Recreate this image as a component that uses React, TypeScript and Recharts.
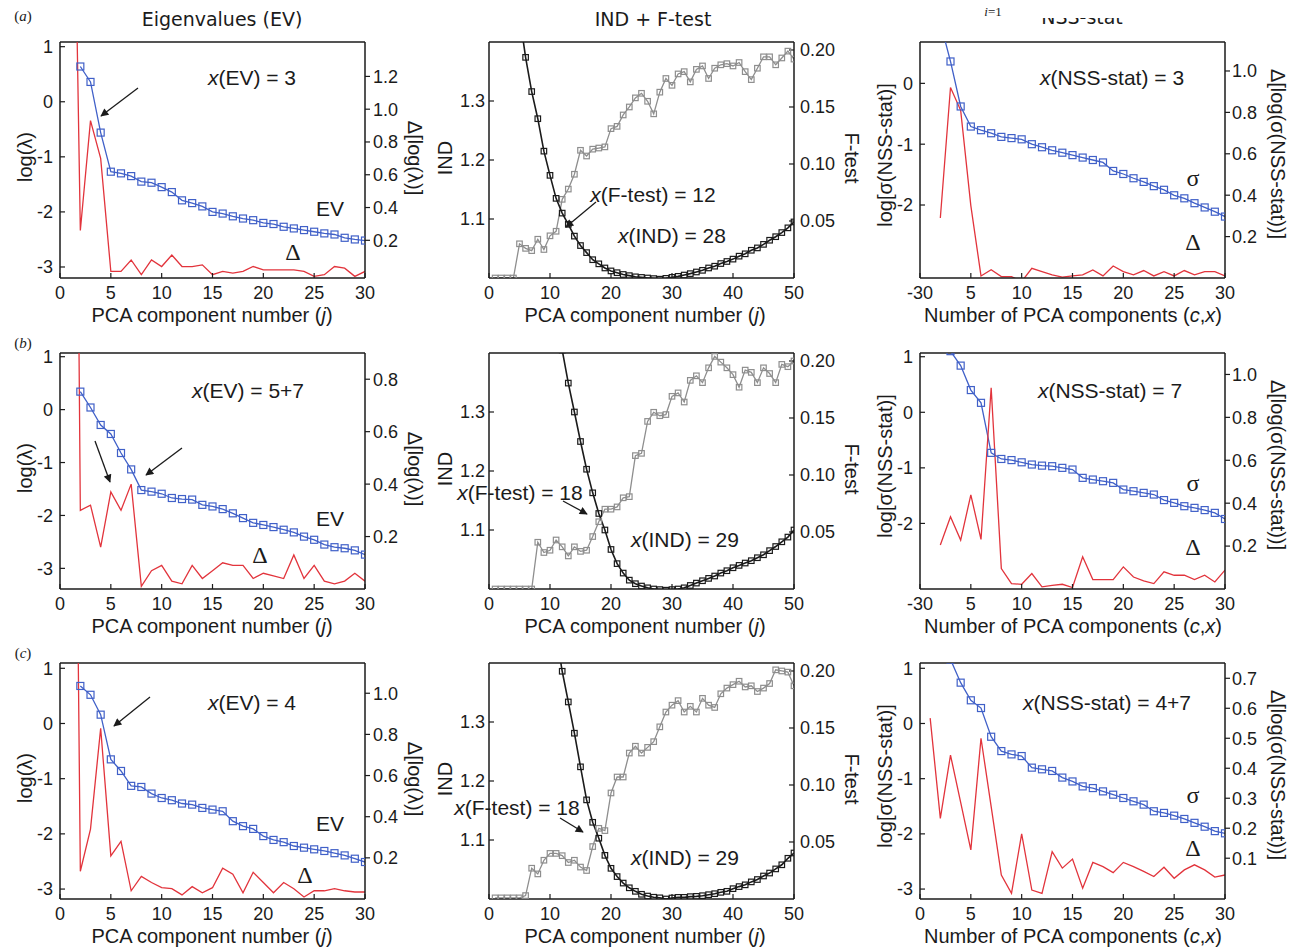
import React from "react";
import { ComposedChart, Line, XAxis, YAxis, ReferenceLine } from "recharts";

const SANS = "'Liberation Sans', Arial, Helvetica, sans-serif";
const SERIF = "'Liberation Serif', 'Times New Roman', serif";
const TITLE_FONT = "'DejaVu Sans', Verdana, sans-serif";
const INK = "#1b1b1b";
const BLUE = "#4060c8";
const RED = "#e2343c";
const GRAY = "#8e8e8e";

// component numbers j (1..30 and 1..50)
const J30 = Array.from({ length: 30 }, (_, i) => i + 1);
const J50 = Array.from({ length: 50 }, (_, i) => i + 1);

// x tick labels
const X30_TICKS = [0, 5, 10, 15, 20, 25, 30];
const X30_LABELS = ["0", "5", "10", "15", "20", "25", "30"];
const X30_LABELS_NSS = ["-30", "5", "10", "15", "20", "25", "30"];
const X50_TICKS = [0, 10, 20, 30, 40, 50];
const X50_LABELS = ["0", "10", "20", "30", "40", "50"];

// ---- column 1: eigenvalues, log(lambda) and delta ----
const EV_A = [null, 0.64, 0.36, -0.56, -1.27, -1.3, -1.35, -1.45, -1.47, -1.55, -1.64, -1.79, -1.84, -1.9, -2.0, -2.03, -2.08, -2.12, -2.15, -2.2, -2.22, -2.27, -2.3, -2.33, -2.36, -2.39, -2.41, -2.47, -2.5, -2.52];
const DEV_A = [4.0, 0.26, 0.93, 0.7, 0.01, 0.01, 0.08, -0.01, 0.08, 0.04, 0.11, 0.04, 0.04, 0.05, -0.01, 0.01, 0.0, 0.01, 0.04, 0.02, 0.02, 0.02, 0.02, 0.01, -0.02, -0.01, 0.04, 0.03, -0.02, 0.01];
const EV_B = [null, 0.34, 0.04, -0.29, -0.46, -0.82, -1.13, -1.52, -1.55, -1.59, -1.67, -1.69, -1.7, -1.8, -1.83, -1.88, -1.96, -2.05, -2.14, -2.18, -2.22, -2.27, -2.32, -2.4, -2.46, -2.55, -2.6, -2.62, -2.66, -2.74];
const DEV_B = [5.0, 0.3, 0.32, 0.16, 0.37, 0.3, 0.4, 0.01, 0.07, 0.09, 0.03, 0.02, 0.09, 0.04, 0.07, 0.1, 0.09, 0.09, 0.04, 0.06, 0.05, 0.04, 0.13, 0.04, 0.09, 0.03, 0.02, 0.03, 0.06, 0.03];
const EV_C = [null, 0.68, 0.52, 0.16, -0.65, -0.86, -1.13, -1.15, -1.27, -1.35, -1.39, -1.45, -1.47, -1.53, -1.56, -1.59, -1.77, -1.86, -1.91, -2.04, -2.11, -2.15, -2.22, -2.25, -2.28, -2.31, -2.35, -2.39, -2.45, -2.51];
const DEV_C = [5.2, 0.135, 0.34, 0.83, 0.21, 0.28, 0.04, 0.11, 0.08, 0.055, 0.05, 0.02, 0.06, 0.03, 0.055, 0.15, 0.12, 0.03, 0.13, 0.08, 0.03, 0.08, 0.05, 0.01, 0.04, 0.04, 0.05, 0.04, 0.034, 0.034];

// ---- column 2: IND and F-test ----
const IND_A = [null, null, null, null, 1.446, 1.374, 1.316, 1.27, 1.215, 1.174, 1.135, 1.11, 1.091, 1.071, 1.055, 1.043, 1.031, 1.024, 1.017, 1.012, 1.009, 1.006, 1.004, 1.002, 1.001, 1.0, 0.999, 0.998, 0.9994, 1.0011, 1.0028, 1.005, 1.0074, 1.0102, 1.013, 1.017, 1.02, 1.0245, 1.028, 1.032, 1.037, 1.041, 1.047, 1.051, 1.057, 1.064, 1.07, 1.077, 1.085, 1.095];
const FT_A = [0, 0, 0, 0, 0.03, 0.026, 0.024, 0.034, 0.025, 0.037, 0.041, 0.069, 0.078, 0.091, 0.112, 0.107, 0.113, 0.114, 0.115, 0.131, 0.133, 0.143, 0.15, 0.158, 0.162, 0.155, 0.144, 0.163, 0.175, 0.169, 0.179, 0.181, 0.172, 0.183, 0.186, 0.175, 0.184, 0.187, 0.188, 0.186, 0.189, 0.181, 0.174, 0.184, 0.194, 0.194, 0.187, 0.193, 0.199, 0.192];
const IND_B = [null, null, null, null, null, null, null, null, null, null, null, 1.405, 1.349, 1.3, 1.25, 1.203, 1.163, 1.128, 1.1, 1.067, 1.043, 1.027, 1.015, 1.009, 1.005, 1.002, 1.0, 0.999, 0.998, 0.999, 1.0, 1.002, 1.006, 1.01, 1.014, 1.018, 1.022, 1.027, 1.031, 1.036, 1.04, 1.044, 1.048, 1.053, 1.058, 1.065, 1.072, 1.08, 1.088, 1.1];
const FT_B = [0, 0, 0, 0, 0, 0, 0, 0.041, 0.032, 0.034, 0.043, 0.037, 0.029, 0.037, 0.033, 0.034, 0.046, 0.059, 0.07, 0.07, 0.072, 0.08, 0.081, 0.117, 0.119, 0.147, 0.155, 0.152, 0.153, 0.169, 0.172, 0.164, 0.183, 0.187, 0.181, 0.194, 0.204, 0.199, 0.194, 0.188, 0.177, 0.192, 0.19, 0.181, 0.194, 0.189, 0.181, 0.197, 0.195, 0.2];
const IND_C = [null, null, null, null, null, null, null, null, null, null, 1.45, 1.386, 1.334, 1.281, 1.224, 1.168, 1.13, 1.103, 1.074, 1.052, 1.038, 1.027, 1.019, 1.013, 1.008, 1.005, 1.003, 1.002, 1.0, 1.0017, 1.0028, 1.0028, 1.004, 1.0045, 1.0056, 1.0073, 1.009, 1.0113, 1.013, 1.0175, 1.021, 1.024, 1.029, 1.033, 1.039, 1.044, 1.051, 1.058, 1.069, 1.078];
const FT_C = [0.001, 0.001, 0.001, 0.001, 0.001, 0.003, 0.027, 0.022, 0.034, 0.04, 0.04, 0.038, 0.032, 0.034, 0.028, 0.025, 0.046, 0.062, 0.06, 0.093, 0.107, 0.107, 0.128, 0.134, 0.128, 0.133, 0.138, 0.151, 0.164, 0.17, 0.174, 0.164, 0.169, 0.164, 0.176, 0.17, 0.168, 0.18, 0.185, 0.188, 0.191, 0.186, 0.187, 0.182, 0.185, 0.189, 0.201, 0.2, 0.199, 0.187];

// ---- column 3: NSS-stat, log sigma and delta ----
const SIG_A = [null, 1.0, 0.36, -0.38, -0.71, -0.77, -0.82, -0.88, -0.9, -0.92, -1.0, -1.05, -1.1, -1.14, -1.18, -1.22, -1.26, -1.3, -1.44, -1.49, -1.56, -1.62, -1.69, -1.75, -1.84, -1.89, -1.97, -2.04, -2.11, -2.19];
const DSIG_A = [null, 0.29, 0.92, 0.81, 0.35, 0.01, 0.04, 0.007, 0.007, -0.017, 0.047, 0.031, 0.015, 0.004, 0.01, 0.015, 0.039, 0.01, 0.058, 0.031, 0.015, 0.036, 0.01, 0.031, 0.01, 0.036, 0.015, 0.031, 0.031, 0.01];
const SIG_B = [null, null, 1.1, 0.84, 0.4, 0.17, -0.73, -0.84, -0.86, -0.9, -0.94, -0.96, -0.97, -1.0, -1.03, -1.18, -1.21, -1.24, -1.27, -1.39, -1.42, -1.45, -1.48, -1.58, -1.63, -1.69, -1.72, -1.76, -1.81, -1.92];
const DSIG_B = [null, 0.205, 0.337, 0.228, 0.439, 0.231, 0.938, 0.095, 0.025, 0.022, 0.072, 0.01, 0.017, 0.022, 0.007, 0.15, 0.044, 0.044, 0.044, 0.103, 0.056, 0.038, 0.025, 0.08, 0.064, 0.064, 0.044, 0.064, 0.033, 0.088];
const SIG_C = [null, null, 1.16, 0.74, 0.42, 0.28, -0.24, -0.5, -0.56, -0.59, -0.8, -0.83, -0.86, -0.98, -1.05, -1.14, -1.17, -1.23, -1.29, -1.35, -1.41, -1.47, -1.59, -1.62, -1.67, -1.73, -1.8, -1.87, -1.95, -1.99];
const DSIG_C = [0.567, 0.233, 0.444, 0.286, 0.128, 0.5, 0.272, 0.044, -0.017, 0.181, -0.006, -0.017, 0.122, 0.067, 0.097, 0.0, 0.086, 0.072, 0.052, 0.086, 0.072, 0.056, 0.039, 0.07, 0.033, 0.061, 0.078, 0.061, 0.037, 0.044];

const COL_X = [60, 489, 920];
const ROW_Y = [42, 353, 663];
const PLOT_H = 236;

type Series = { values: (number | null)[]; axis: "l" | "r"; color: string; width: number; box?: number };
type Cfg = {
  col: number; row: number; xs: number[]; xMax: number; xTicks: number[]; xLabels: string[];
  lDomain: [number, number]; lTicks: number[]; lDigits: number; lTs: number; lTm: number;
  rDomain: [number, number]; rTicks: number[]; rDigits: number; rTs: number; rTm: number;
  series: Series[];
};

const squareDot = (color: string, size: number) => (props: any) => {
  const { cx, cy, index } = props;
  if (cx == null || cy == null || Number.isNaN(cy)) return <g key={`d${index}`} />;
  return (
    <rect key={`d${index}`} x={cx - size / 2} y={cy - size / 2} width={size} height={size}
      fill="none" stroke={color} strokeWidth={1.2} />
  );
};

const ev = (row: number, l: [number, number], r: [number, number], rTicks: number[], blue: any[], red: any[]): Cfg => ({
  col: 0, row, xs: J30, xMax: 30, xTicks: X30_TICKS, xLabels: X30_LABELS,
  lDomain: l, lTicks: [-3, -2, -1, 0, 1], lDigits: 0, lTs: -5, lTm: 12,
  rDomain: r, rTicks, rDigits: 1, rTs: 5, rTm: 3,
  series: [
    { values: blue, axis: "l", color: BLUE, width: 1.3, box: 7 },
    { values: red, axis: "r", color: RED, width: 1.3 },
  ],
});

const ind = (row: number, ind: any[], ft: any[]): Cfg => ({
  col: 1, row, xs: J50, xMax: 50, xTicks: X50_TICKS, xLabels: X50_LABELS,
  lDomain: [1.0, 1.4], lTicks: [1.1, 1.2, 1.3], lDigits: 1, lTs: -5, lTm: 9,
  rDomain: [0, 0.207], rTicks: [0.05, 0.1, 0.15, 0.2], rDigits: 2, rTs: -5, rTm: 11,
  series: [
    { values: ft, axis: "r", color: GRAY, width: 1.3, box: 5.5 },
    { values: ind, axis: "l", color: INK, width: 1.6, box: 5.5 },
  ],
});

const nss = (row: number, xl: string[], l: [number, number], lTicks: number[], r: [number, number], rTicks: number[], blue: any[], red: any[]): Cfg => ({
  col: 2, row, xs: J30, xMax: 30, xTicks: X30_TICKS, xLabels: xl,
  lDomain: l, lTicks, lDigits: 0, lTs: -5, lTm: 12,
  rDomain: r, rTicks, rDigits: 1, rTs: 5, rTm: 2,
  series: [
    { values: blue, axis: "l", color: BLUE, width: 1.3, box: 7 },
    { values: red, axis: "r", color: RED, width: 1.3 },
  ],
});

const PANELS: Cfg[] = [
  ev(0, [-3.2, 1.085], [-0.03, 1.41], [0.2, 0.4, 0.6, 0.8, 1.0, 1.2], EV_A, DEV_A),
  ev(1, [-3.39, 1.07], [0, 0.9], [0.2, 0.4, 0.6, 0.8], EV_B, DEV_B),
  ev(2, [-3.18, 1.096], [0, 1.147], [0.2, 0.4, 0.6, 0.8, 1.0], EV_C, DEV_C),
  ind(0, IND_A, FT_A),
  ind(1, IND_B, FT_B),
  ind(2, IND_C, FT_C),
  nss(0, X30_LABELS_NSS, [-3.2, 0.68], [-2, -1, 0], [0, 1.14], [0.2, 0.4, 0.6, 0.8, 1.0], SIG_A, DSIG_A),
  nss(1, X30_LABELS_NSS, [-3.18, 1.067], [-2, -1, 0, 1], [0, 1.1], [0.2, 0.4, 0.6, 0.8, 1.0], SIG_B, DSIG_B),
  nss(2, X30_LABELS, [-3.18, 1.096], [-3, -2, -1, 0, 1], [-0.036, 0.751], [0.1, 0.2, 0.3, 0.4, 0.5, 0.6, 0.7], SIG_C, DSIG_C),
];

const tickStyle = { fill: INK, fontSize: 18, fontFamily: SANS };

function Panel({ cfg }: { cfg: Cfg }) {
  const data = cfg.xs.map((x, i) => {
    const row: any = { x };
    cfg.series.forEach((s, k) => (row[`s${k}`] = s.values[i]));
    return row;
  });
  const left = COL_X[cfg.col] - 60;
  const top = ROW_Y[cfg.row] - 42;
  return (
    <div style={{ position: "absolute", left, top }}>
      <ComposedChart width={430} height={330} data={data} margin={{ top: 42, left: 10, right: 15, bottom: 22 }}>
        <XAxis dataKey="x" type="number" domain={[0, cfg.xMax]} ticks={cfg.xTicks} interval={0} allowDataOverflow
          tickFormatter={(v: number) => cfg.xLabels[cfg.xTicks.indexOf(v)] ?? String(v)}
          height={30} tickSize={-5} tickMargin={13} tick={tickStyle}
          axisLine={{ stroke: INK, strokeWidth: 1.5 }} tickLine={{ stroke: INK, strokeWidth: 1.2 }} />
        <YAxis yAxisId="l" type="number" domain={cfg.lDomain} ticks={cfg.lTicks} interval={0} allowDataOverflow
          tickFormatter={(v: number) => v.toFixed(cfg.lDigits)} width={50}
          tickSize={cfg.lTs} tickMargin={cfg.lTm} tick={tickStyle}
          axisLine={{ stroke: INK, strokeWidth: 1.5 }} tickLine={{ stroke: INK, strokeWidth: 1.2 }} />
        <YAxis yAxisId="r" orientation="right" type="number" domain={cfg.rDomain} ticks={cfg.rTicks} interval={0} allowDataOverflow
          tickFormatter={(v: number) => v.toFixed(cfg.rDigits)} width={50}
          tickSize={cfg.rTs} tickMargin={cfg.rTm} tick={tickStyle}
          axisLine={{ stroke: INK, strokeWidth: 1.5 }} tickLine={{ stroke: INK, strokeWidth: 1.2 }} />
        <ReferenceLine yAxisId="l" y={cfg.lDomain[1]} stroke={INK} strokeWidth={1.5} />
        {cfg.series.map((s, k) => (
          <Line key={k} type="linear" dataKey={`s${k}`} yAxisId={s.axis} stroke={s.color} strokeWidth={s.width}
            dot={s.box ? squareDot(s.color, s.box) : false} activeDot={false} isAnimationActive={false} />
        ))}
      </ComposedChart>
    </div>
  );
}

function Txt({ x, y, size = 21, font = SANS, rotate = 0, children, anchor = "middle" }: any) {
  return (
    <text x={0} y={0} transform={`translate(${x},${y}) rotate(${rotate})`} textAnchor={anchor}
      dominantBaseline="central" fontSize={size} fontFamily={font} fill={INK}>
      {children}
    </text>
  );
}

const I = ({ children }: any) => <tspan fontStyle="italic">{children}</tspan>;

function Arrow({ x1, y1, x2, y2 }: any) {
  return <line x1={x1} y1={y1} x2={x2} y2={y2} stroke={INK} strokeWidth={1.3} markerEnd="url(#ah)" />;
}

function Overlay() {
  return (
    <svg width={1289} height={951} style={{ position: "absolute", left: 0, top: 0, pointerEvents: "none" }}>
      <defs>
        <marker id="ah" viewBox="0 0 10 10" refX="9" refY="5" markerWidth="10" markerHeight="8"
          markerUnits="userSpaceOnUse" orient="auto">
          <path d="M0,0 L10,5 L0,10 z" fill={INK} />
        </marker>
      </defs>

      {/* titles */}
      <Txt x={222} y={19} size={19} font={TITLE_FONT}>Eigenvalues (EV)</Txt>
      <Txt x={653} y={19} size={19} font={TITLE_FONT}>IND + F-test</Txt>
      <Txt x={1082} y={17} size={19} font={TITLE_FONT}>NSS-stat</Txt>
      <rect x={1020} y={0} width={140} height={18} fill="#fff" />
      <Txt x={993} y={11} size={13} font={SERIF}><I>i</I>=1</Txt>

      {/* panel letters */}
      <Txt x={23} y={16} size={15} font={SERIF}>(<I>a</I>)</Txt>
      <Txt x={23} y={343} size={15} font={SERIF}>(<I>b</I>)</Txt>
      <Txt x={23} y={653} size={15} font={SERIF}>(<I>c</I>)</Txt>

      {ROW_Y.map((t, r) => (
        <g key={r}>
          <Txt x={25} y={t + 115} size={20} rotate={-90}>log(λ)</Txt>
          <Txt x={415} y={t + 116} size={20} rotate={90}>Δ[log(λ)]</Txt>
          <Txt x={212} y={t + PLOT_H + 37} size={20}>PCA component number (<I>j</I>)</Txt>
          <Txt x={445} y={t + 116} size={20} rotate={-90}>IND</Txt>
          <Txt x={852} y={t + 116} size={20} rotate={90}>F-test</Txt>
          <Txt x={645} y={t + PLOT_H + 37} size={20}>PCA component number (<I>j</I>)</Txt>
          <Txt x={885} y={t + 113} size={20} rotate={-90}>log[σ(NSS-stat)]</Txt>
          <Txt x={1278} y={t + 112} size={20} rotate={90}>Δ[log(σ(NSS-stat))]</Txt>
          <Txt x={1073} y={t + PLOT_H + 37} size={20}>Number of PCA components (<I>c</I>,<I>x</I>)</Txt>
        </g>
      ))}

      {/* row a */}
      <Txt x={252} y={77}><I>x</I>(EV) = 3</Txt>
      <Txt x={330} y={208}>EV</Txt>
      <Txt x={293} y={252} size={24} font={SERIF}>Δ</Txt>
      <Arrow x1={138} y1={88} x2={101} y2={116} />
      <Txt x={653} y={194}><I>x</I>(F-test) = 12</Txt>
      <Txt x={672} y={235}><I>x</I>(IND) = 28</Txt>
      <Arrow x1={596} y1={202} x2={566} y2={227} />
      <Txt x={1112} y={77}><I>x</I>(NSS-stat) = 3</Txt>
      <Txt x={1193} y={178} size={24} font={SERIF}>σ</Txt>
      <Txt x={1193} y={242} size={24} font={SERIF}>Δ</Txt>

      {/* row b */}
      <Txt x={248} y={390}><I>x</I>(EV) = 5+7</Txt>
      <Txt x={330} y={518}>EV</Txt>
      <Txt x={260} y={555} size={24} font={SERIF}>Δ</Txt>
      <Arrow x1={95} y1={441} x2={110} y2={482} />
      <Arrow x1={182} y1={448} x2={146} y2={475} />
      <Txt x={520} y={492}><I>x</I>(F-test) = 18</Txt>
      <Txt x={685} y={539}><I>x</I>(IND) = 29</Txt>
      <Arrow x1={563} y1={501} x2={587} y2={514} />
      <Txt x={1110} y={390}><I>x</I>(NSS-stat) = 7</Txt>
      <Txt x={1193} y={483} size={24} font={SERIF}>σ</Txt>
      <Txt x={1193} y={547} size={24} font={SERIF}>Δ</Txt>

      {/* row c */}
      <Txt x={252} y={702}><I>x</I>(EV) = 4</Txt>
      <Txt x={330} y={823}>EV</Txt>
      <Txt x={305} y={875} size={24} font={SERIF}>Δ</Txt>
      <Arrow x1={150} y1={697} x2={114} y2={726} />
      <Txt x={517} y={807}><I>x</I>(F-test) = 18</Txt>
      <Txt x={685} y={857}><I>x</I>(IND) = 29</Txt>
      <Arrow x1={560} y1={818} x2={583} y2={832} />
      <Txt x={1107} y={702}><I>x</I>(NSS-stat) = 4+7</Txt>
      <Txt x={1193} y={795} size={24} font={SERIF}>σ</Txt>
      <Txt x={1193} y={848} size={24} font={SERIF}>Δ</Txt>
    </svg>
  );
}

export default function App() {
  return (
    <div style={{ position: "absolute", left: 0, top: 0, width: 1289, height: 951, background: "#fff", overflow: "hidden" }}>
      {PANELS.map((cfg, i) => (
        <Panel key={i} cfg={cfg} />
      ))}
      <Overlay />
    </div>
  );
}
